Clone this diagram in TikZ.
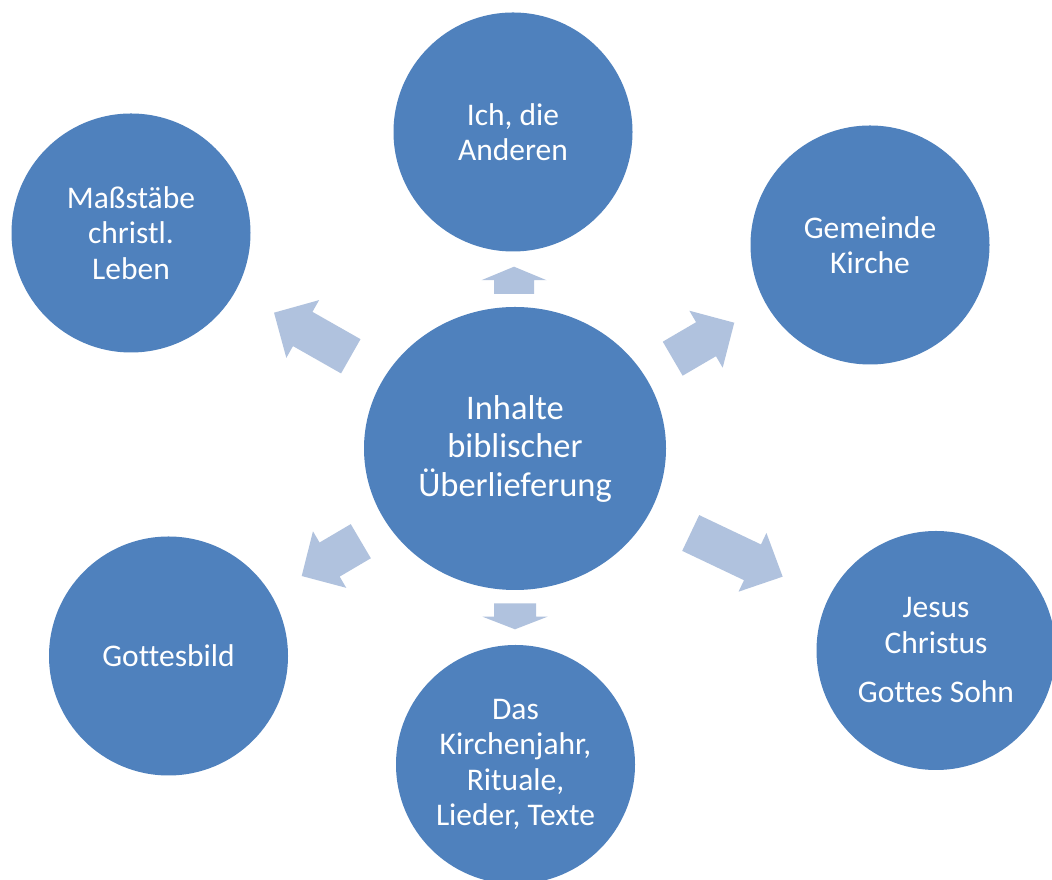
\documentclass[tikz,border=0pt]{standalone}
\usepackage{fontspec}
\setmainfont{Carlito}[Ligatures=NoCommon]
\usetikzlibrary{shapes.geometric}
\definecolor{circlefill}{HTML}{4F81BD}
\definecolor{arrowfill}{HTML}{B0C2DE}
\newcommand\blockarrow[6]{%
  \fill[arrowfill, shift={#1}, rotate=#2]
    (0,-#5) -- (#3-#4,-#5) -- (#3-#4,-#6) -- (#3,0) -- (#3-#4,#6) -- (#3-#4,#5) -- (0,#5) -- cycle;}
\tikzset{
  outer/.style={circle, fill=circlefill, draw=none, minimum size=239pt, inner sep=0pt,
    text=white, align=center, font=\fontsize{31.5}{35.5}\selectfont},
  hub/.style={ellipse, fill=circlefill, draw=none, minimum width=302pt, minimum height=283pt,
    inner sep=0pt, text=white, align=center, font=\fontsize{34.5}{38.5}\selectfont}
}
\begin{document}
\begin{tikzpicture}[x=1pt,y=1pt]
\useasboundingbox (0,0) rectangle (1052,880);
\clip (0,0) rectangle (1052,880);
\fill[white] (0,0) rectangle (1052,880);

\node[hub]   (hub)  at (515,431.5) {Inhalte\\biblischer\\Überlieferung};
\node[outer] (ich)  at (513,748)   {Ich, die\\Anderen};
\node[outer] (mass) at (131,647)   {Maßstäbe\\christl.\\Leben};
\node[outer] (gem)  at (870,635)   {Gemeinde\\Kirche};
\node[outer] (jes)  at (936,229.5) {Jesus\\Christus\\[14pt]Gottes Sohn};
\node[outer] (gott) at (168.5,224) {Gottesbild};
\node[outer] (kirj) at (515.5,115.5) {Das\\Kirchenjahr,\\Rituale,\\Lieder, Texte};

\coordinate (aup)   at (514,586);
\coordinate (adown) at (515,276.7);
\coordinate (aml)   at (350.8,523.7);
\coordinate (agem)  at (672.7,521.3);
\coordinate (ajes)  at (690.7,347);
\coordinate (agott) at (360.8,338.8);

\blockarrow{(aup)}{90}{27.3}{13.5}{20}{32.5}
\blockarrow{(adown)}{-90}{26}{12.6}{21}{32.5}
\blockarrow{(aml)}{150.4}{88.3}{33}{19.7}{33.2}
\blockarrow{(agem)}{30.3}{71.3}{32.7}{19.7}{33}
\blockarrow{(ajes)}{-25.4}{101.8}{33.4}{19.8}{32.5}
\blockarrow{(agott)}{210.5}{68.6}{32.4}{19.8}{32.8}
\end{tikzpicture}
\end{document}
